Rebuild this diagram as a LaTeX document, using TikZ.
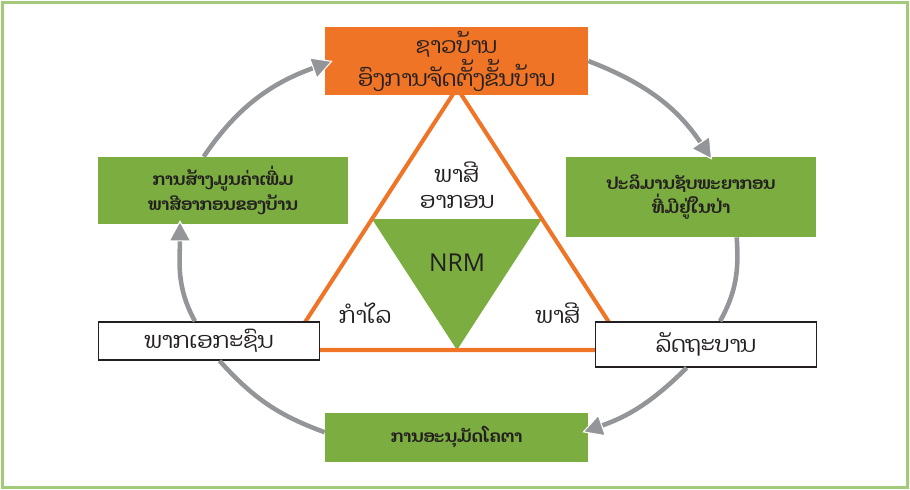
\documentclass[tikz,border=0pt]{standalone}
\usepackage{fontspec}
\setmainfont{Dhyana}[Script=Lao]
\newfontfamily\latinfont{Open Sans}
\usepackage{tikz}
\usetikzlibrary{shapes,arrows.meta,positioning,calc,backgrounds}
\definecolor{laoorange}{RGB}{240,116,38}
\definecolor{laogreen}{RGB}{124,173,65}
\definecolor{framegreen}{RGB}{163,201,122}
\definecolor{cyclegray}{RGB}{147,149,152}
\definecolor{textdark}{RGB}{35,31,32}
\tikzstyle{obox} = [rectangle, fill=laoorange, text=textdark, align=center, inner sep=0pt, minimum width=5.26cm, minimum height=1.36cm, font=\fontsize{12.6}{14.2}\selectfont]
\tikzstyle{gbox} = [rectangle, fill=laogreen, text=textdark, align=center, inner sep=0pt, minimum width=5cm, font=\fontsize{9.6}{14}\selectfont\bfseries]
\tikzstyle{wbox} = [rectangle, draw=textdark, fill=white, line width=0.9pt, text=textdark, inner sep=0pt, minimum width=4.42cm, font=\fontsize{12.8}{13}\selectfont]
\tikzstyle{lbl} = [text=textdark, align=center, inner sep=0pt, font=\fontsize{12.8}{14.8}\selectfont]
\tikzstyle{cycline} = [draw=cyclegray, line width=2.6pt]
\tikzstyle{cycarrow} = [cycline, -{Triangle[length=12pt, width=13pt, fill=cyclegray, color=white, line width=0.6pt]}]

\begin{document}
\begin{tikzpicture}[x=0.02cm, y=-0.02cm]
			\useasboundingbox (0,0) rectangle (910,490);
			\draw [framegreen, line width=1.6pt] (2.5,2.5) rectangle (907.5,487.5);

			\node [obox] (vill) at (456.5,61) {ຊາວບ້ານ\\ອົງການຈັດຕັ້ງຂັ້ນບ້ານ};
			\node [gbox, minimum height=1.34cm] (lgain) at (223,190.5) {ການສ້າງມູນຄ່າເພີ່ມ\\ພາສີອາກອນຂອງບ້ານ};
			\node [gbox, minimum height=1.6cm] (forest) at (691,197) {ປະລິມານຊັບພະຍາກອນ\\ທີ່ມີຢູ່ໃນປ່າ};
			\node [wbox, minimum height=0.76cm] (priv) at (209,341) {ພາກເອກະຊົນ};
			\node [wbox, minimum height=0.9cm] (govt) at (706,344.5) {ລັດຖະບານ};
			\node [gbox, minimum width=5.26cm, minimum height=0.98cm] (quota) at (456.5,437.5) {ການອະນຸມັດໂຄຕາ};

			\coordinate (ta) at (457,88);
			\coordinate (tl) at (287,350);
			\coordinate (tr) at (627,350);
			\begin{scope}[on background layer]
				\fill [laogreen] ($(ta)!0.5!(tl)$) -- ($(ta)!0.5!(tr)$) -- ($(tl)!0.5!(tr)$) -- cycle;
				\draw [laoorange, line width=2.3pt] (ta) -- (tl) -- (tr) -- cycle;
			\end{scope}

			\node [lbl] (tax) at (457,185) {ພາສີ\\ອາກອນ};
			\node [lbl, font=\fontsize{14}{14}\latinfont] (nrm) at (457,263) {NRM};
			\node [lbl] (profit) at (365,313) {ກຳໄລ};
			\node [lbl] (duty) at (558,313) {ພາສີ};

			\draw [cycarrow] ([xshift=-11pt]lgain.north) to[out=56, in=200] ([xshift=4.5pt]vill.west);
			\draw [cycarrow] (vill.east) to[out=-21, in=124] ([xshift=12pt, yshift=-1.7pt]forest.north);
			\draw [cycline] ([xshift=26pt]forest.south) to[out=-86, in=61] ([xshift=8pt]govt.north);
			\draw [cycarrow] ([xshift=-11pt]govt.south) to[out=-135, in=19] ([xshift=-3.4pt, yshift=3pt]quota.east);
			\draw [cycline] ([yshift=3pt]quota.west) to[out=160, in=-48] ([xshift=6pt]priv.south);
			\draw [cycarrow] ([xshift=-8pt]priv.north) to[out=119, in=-90] ([xshift=-24.5pt, yshift=2.3pt]lgain.south);
		\end{tikzpicture}
\end{document}
